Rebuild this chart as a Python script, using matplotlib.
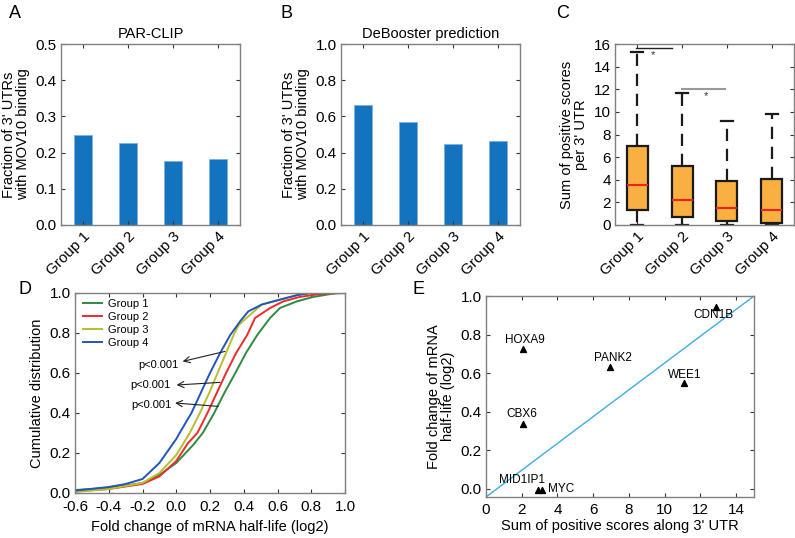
import matplotlib
matplotlib.use("Agg")
import matplotlib.pyplot as plt
import numpy as np

plt.rcParams['font.family'] = ['Liberation Sans', 'DejaVu Sans']

# ---------------- data ----------------
groups = ["Group 1", "Group 2", "Group 3", "Group 4"]
parclip_frac = [0.249, 0.226, 0.177, 0.181]
debooster_frac = [0.665, 0.571, 0.445, 0.464]

# box stats for panel C
box_low = [0.0, 0.0, 0.0, 0.0]
box_q1 = [1.32, 0.75, 0.33, 0.18]
box_med = [3.53, 2.25, 1.50, 1.35]
box_q3 = [6.98, 5.18, 3.86, 4.07]
box_high = [15.3, 11.7, 9.16, 9.82]

# CDF curves, panel D (x = log2 fold change, y = cumulative fraction)
g1_x = [-0.6, -0.4, -0.2, -0.1, 0.0, 0.1, 0.157, 0.225, 0.285, 0.35, 0.413, 0.48, 0.556, 0.615, 0.714, 0.81, 0.95, 1.0]
g1_y = [0.015, 0.025, 0.05, 0.09, 0.15, 0.24, 0.30, 0.40, 0.50, 0.60, 0.70, 0.79, 0.875, 0.925, 0.958, 0.98, 1.0, 1.0]
g2_x = [-0.6, -0.4, -0.2, -0.1, 0.0, 0.07, 0.125, 0.185, 0.24, 0.295, 0.355, 0.42, 0.467, 0.556, 0.634, 0.73, 0.85, 1.0]
g2_y = [0.008, 0.02, 0.045, 0.083, 0.16, 0.25, 0.30, 0.40, 0.50, 0.60, 0.70, 0.79, 0.875, 0.925, 0.958, 0.98, 0.995, 1.0]
g3_x = [-0.6, -0.4, -0.2, -0.1, 0.0, 0.08, 0.14, 0.195, 0.245, 0.295, 0.34, 0.37, 0.45, 0.506, 0.615, 0.72, 0.8, 1.0]
g3_y = [0.005, 0.02, 0.05, 0.10, 0.19, 0.30, 0.40, 0.50, 0.60, 0.70, 0.79, 0.84, 0.90, 0.942, 0.967, 0.99, 1.0, 1.0]
g4_x = [-0.6, -0.4, -0.3, -0.2, -0.1, -0.05, 0.0, 0.02, 0.09, 0.145, 0.2, 0.26, 0.32, 0.38, 0.427, 0.506, 0.615, 0.72, 0.8, 1.0]
g4_y = [0.012, 0.03, 0.045, 0.07, 0.15, 0.21, 0.27, 0.30, 0.40, 0.50, 0.60, 0.70, 0.79, 0.86, 0.908, 0.942, 0.967, 0.99, 1.0, 1.0]
cdf_labels = ["Group 1", "Group 2", "Group 3", "Group 4"]

# panel E
genes = ["CDN1B", "HOXA9", "PANK2", "WEE1", "CBX6", "MID1IP1", "MYC"]
gene_scores = [12.85, 2.09, 6.94, 11.1, 2.09, 2.93, 3.12]
gene_fc = [0.944, 0.723, 0.632, 0.551, 0.338, -0.005, -0.005]

# ---------------- style ----------------
W, H = 795, 538
fig = plt.figure(figsize=(W / 100, H / 100), dpi=100)
SPINE = '#808080'
bar_color = '#1473BE'
box_color = '#FAB040'


def add_ax(l, r, t, b):
    return fig.add_axes([l / W, 1 - b / H, (r - l) / W, (b - t) / H])


def style(ax, fs=10, xpad=3):
    for s in ax.spines.values():
        s.set_color(SPINE)
        s.set_linewidth(1.0)
    ax.tick_params(direction='in', top=True, right=True, length=3,
                   width=0.8, color='#333333', labelsize=fs, pad=3)
    ax.tick_params(axis='x', pad=xpad)


# ---------------- A & B ----------------
def barpanel(ax, vals, ymax, step, title):
    x = np.arange(1, len(groups) + 1)
    ax.bar(x, vals, width=0.4, color=bar_color, edgecolor='#7fb2e0', linewidth=0.6)
    ax.set_xlim(0.5, 4.5)
    ax.set_ylim(0, ymax)
    ax.set_yticks(np.arange(0, ymax + 1e-9, step))
    ax.set_yticklabels([f"{v:.1f}" for v in np.arange(0, ymax + 1e-9, step)])
    ax.set_xticks(x)
    ax.set_xticklabels(groups, rotation=45, ha='right', rotation_mode='anchor')
    style(ax, 11)
    ax.set_ylabel("Fraction of 3' UTRs\nwith MOV10 binding", fontsize=10.5, linespacing=1.05)
    ax.set_title(title, fontsize=10.5, pad=4)


axA = add_ax(61, 240, 44, 225)
barpanel(axA, parclip_frac, 0.5, 0.1, "PAR-CLIP")
axB = add_ax(341, 520, 44, 225)
barpanel(axB, debooster_frac, 1.0, 0.2, "DeBooster prediction")

# ---------------- C ----------------
axC = add_ax(615, 794, 44, 225)
stats = []
for i in range(4):
    stats.append(dict(med=box_med[i], q1=box_q1[i], q3=box_q3[i],
                      whislo=box_low[i], whishi=box_high[i], fliers=[]))
axC.bxp(stats, positions=[1, 2, 3, 4], widths=0.47, patch_artist=True,
        showfliers=False, capwidths=0.27,
        boxprops=dict(facecolor=box_color, edgecolor='#1a1a1a', linewidth=1.6),
        medianprops=dict(color='#EE2222', linewidth=1.5),
        whiskerprops=dict(color='#1a1a1a', linewidth=1.6, linestyle=(0, (5.5, 3.5))),
        capprops=dict(color='#1a1a1a', linewidth=1.6))
axC.set_xlim(0.5, 4.5)
axC.set_ylim(0, 16)
axC.set_yticks(np.arange(0, 17, 2))
axC.set_xticks([1, 2, 3, 4])
axC.set_xticklabels(groups, rotation=45, ha='right', rotation_mode='anchor')
style(axC, 11)
axC.set_ylabel("Sum of positive scores\nper 3' UTR", fontsize=10.5, linespacing=1.05)
axC.plot([0.97, 1.77], [15.65, 15.65], color='#222222', lw=1.0)
axC.text(1.35, 15.0, '*', ha='center', va='center', fontsize=8, color='#333333')
axC.plot([2.0, 2.96], [12.06, 12.06], color='#999999', lw=1.5)
axC.text(2.53, 11.44, '*', ha='center', va='center', fontsize=8, color='#333333')

# ---------------- D ----------------
axD = add_ax(75, 345, 293, 493)
cols = ['#2E8B3E', '#EE2A2A', '#B8BE2E', '#2255BB']
for xs, ys, c, lab in zip([g1_x, g2_x, g3_x, g4_x], [g1_y, g2_y, g3_y, g4_y], cols, cdf_labels):
    axD.plot(xs, ys, color=c, lw=1.4, label=lab)
axD.set_xlim(-0.6, 1.0)
axD.set_ylim(0, 1.0)
axD.set_xticks(np.round(np.arange(-0.6, 1.01, 0.2), 1))
axD.set_xticklabels([f"{v:.1f}" for v in np.arange(-0.6, 1.01, 0.2)])
axD.set_yticks(np.arange(0, 1.01, 0.2))
axD.set_yticklabels([f"{v:.1f}" for v in np.arange(0, 1.01, 0.2)])
style(axD, 11, xpad=5)
axD.set_xlabel("Fold change of mRNA half-life (log2)", fontsize=10.5, labelpad=4)
axD.set_ylabel("Cumulative distribution", fontsize=10.5)
leg = axD.legend(loc='upper left', frameon=False, fontsize=8, handlelength=1.7,
                 labelspacing=0.28, handletextpad=0.6, borderaxespad=0.3,
                 bbox_to_anchor=(0.0, 1.01))
ann = [((-0.108, 0.64), (0.038, 0.658), (0.289, 0.708)),
       ((-0.151, 0.54), (0.002, 0.54), (0.259, 0.553)),
       ((-0.146, 0.44), (-0.007, 0.45), (0.249, 0.433))]
for (tx, ty), head, tail in ann:
    axD.text(tx, ty, 'p<0.001', ha='center', va='center', fontsize=8)
    axD.annotate('', xy=head, xytext=tail,
                 arrowprops=dict(arrowstyle='->', color='#222222', lw=0.8,
                                 shrinkA=0, shrinkB=0, mutation_scale=11))

# ---------------- E ----------------
axE = add_ax(486, 754, 296, 497)
axE.set_xlim(0, 15)
axE.set_ylim(-0.043, 1.0)
axE.plot([0, 15], [-0.043, 1.0], color='#3BAEE0', lw=1.0)
axE.scatter(gene_scores, gene_fc, marker='^', s=18, color='black', zorder=3)
label_pos = {
    "CDN1B": (12.72, 0.90, 'center'),
    "HOXA9": (2.15, 0.77, 'center'),
    "PANK2": (7.1, 0.68, 'center'),
    "WEE1": (11.1, 0.59, 'center'),
    "CBX6": (2.0, 0.39, 'center'),
    "MID1IP1": (2.0, 0.043, 'center'),
    "MYC": (3.45, 0.0, 'left'),
}
for g in genes:
    lx, ly, ha = label_pos[g]
    axE.text(lx, ly, g, ha=ha, va='center', fontsize=8.5)
axE.set_xticks(np.arange(0, 15, 2))
axE.set_yticks(np.arange(0, 1.01, 0.2))
axE.set_yticklabels([f"{v:.1f}" for v in np.arange(0, 1.01, 0.2)])
style(axE, 11, xpad=4)
axE.set_xlabel("Sum of positive scores along 3' UTR", fontsize=10.5, labelpad=2)
axE.set_ylabel("Fold change of mRNA\nhalf-life (log2)", fontsize=10.5, linespacing=1.05)

# ---------------- panel letters ----------------
for lab, (px, py) in {"A": (15, 13), "B": (287, 13), "C": (563, 13),
                      "D": (25, 290), "E": (418, 290)}.items():
    fig.text(px / W, 1 - py / H, lab, fontsize=13, ha='center', va='center')

fig.savefig("out.png", dpi=100)
